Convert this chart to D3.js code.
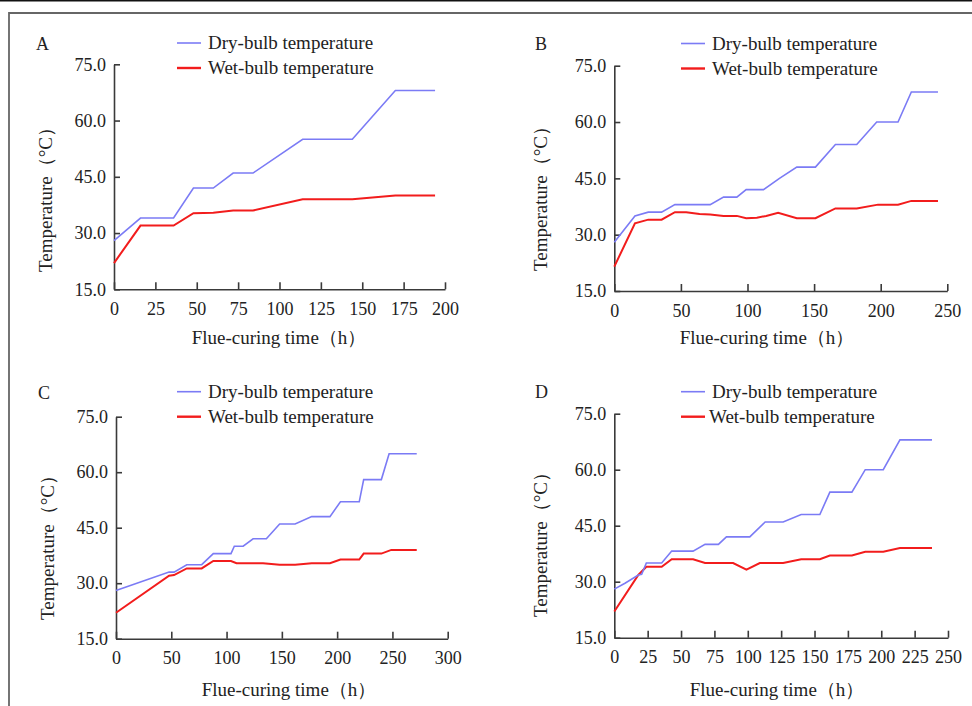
<!DOCTYPE html>
<html>
<head>
<meta charset="utf-8">
<script src="https://cdn.jsdelivr.net/npm/d3@7"></script>
<style>
  body{margin:0;background:#fff;}
  svg{display:block;font-family:"Liberation Serif","Times New Roman",serif;}
</style>
</head>
<body>
<svg id="chart" width="972" height="706"></svg>
<script>
'use strict';
// series data: [time (h), temperature (°C)]
var dryA = [[0,28],[16,34],[36,34],[48,42],[60,42],[72,46],[84,46],[114,55],[144,55],[170,68],[194,68]];
var wetA = [[0,22],[16,32],[36,32],[48,35.3],[60,35.4],[72,36],[84,36],[114,39],[144,39],[170,40],[194,40]];

var dryB = [[0,28],[15.5,35],[25.5,36],[35.5,36],[45.5,38],[72,38],[82,40],[92,40],[99,42],[112,42],[124,45],[137,48],[151,48],
            [166,54],[182,54],[197,60],[213,60],[223,68],[243,68]];
var wetB = [[0,21.5],[15.5,33],[25.5,34],[35.5,34],[45.5,36],[54,36],[64,35.5],[72,35.4],[82,35],[92,35],[99,34.4],[107,34.5],
            [114,35],[123,35.8],[137,34.4],[151,34.4],[166,37],[182,37],[198,38],[213,38],[223,39],[243,39]];

var dryC = [[0,28],[48,33],[52.5,33],[64,35],[77.5,35],[88,38],[104,38],[107,40],[115,40],[124,42],[136,42],[148,46],[162,46],
            [177,48],[193.5,48],[203,52],[220,52],[224,58],[240,58],[247,65],[272,65]];
var wetC = [[0,22],[48,32],[52.5,32.2],[64,34],[77.5,34],[88,36],[104,36],[109,35.4],[133,35.4],[148,35],[162,35],[177,35.4],
            [193.5,35.4],[203,36.4],[220,36.4],[224,38],[240,38],[249,39],[272,39]];

var dryD = [[0,28],[8,29.6],[18,31.8],[20.5,32],[24,35],[35.5,35],[43,38.2],[59,38.2],[68,40],[78,40],[84,42],[101.5,42],
            [113,46],[126.5,46],[140,48],[154,48],[161.5,54],[178,54],[188,60],[201.5,60],[214,68],[238,68]];
var wetD = [[0,22],[18,31.8],[24,34],[35.5,34],[43,36],[59,36],[68,35],[89,35],[99,33.2],[109,35],[126.5,35],[140,36],[154,36],
            [161.5,37],[178,37],[188,38],[201.5,38],[214,39],[238,39]];

var yTicks = [15,30,45,60,75];
var xTicksA = [0,25,50,75,100,125,150,175,200],
    xTicksB = [0,50,100,150,200,250],
    xTicksC = [0,50,100,150,200,250,300],
    xTicksD = [0,25,50,75,100,125,150,175,200,225,250];

var seriesNames = ['Dry-bulb temperature','Wet-bulb temperature'];
var xTitle = 'Flue-curing time（h）',
    yTitle = 'Temperature（°C）';

var serif = '"Liberation Serif","Times New Roman",serif';
var colDry = '#7b7bf5', colWet = '#f21c1c', colAxis = '#3a3a3a';

// panel layout (pixels)
var panels = [
  {tag:'A', dry:dryA, wet:wetA, ticks:xTicksA, l:114, r:445, t:64.3, b:289.3, tagX:36, tagY:50,
   legX:177, legTx:208, legTx2:208, legY:43, yLabX:46, yLabY:195, xLabX:279, xLabY:344},
  {tag:'B', dry:dryB, wet:wetB, ticks:xTicksB, l:614.3, r:947.3, t:65.7, b:291, tagX:535, tagY:50,
   legX:681, legTx:712, legTx2:712, legY:43.5, yLabX:541, yLabY:194, xLabX:767, xLabY:344},
  {tag:'C', dry:dryC, wet:wetC, ticks:xTicksC, l:116, r:447.7, t:416.7, b:638.7, tagX:38, tagY:399,
   legX:177, legTx:208, legTx2:208, legY:391.7, yLabX:48, yLabY:543, xLabX:289, xLabY:696},
  {tag:'D', dry:dryD, wet:wetD, ticks:xTicksD, l:614.3, r:948, t:413.7, b:637.7, tagX:535, tagY:398,
   legX:681, legTx:712, legTx2:709, legY:391.7, yLabX:541, yLabY:540, xLabX:777, xLabY:696}
];

var svg = d3.select('#chart');

// frame
svg.append('rect').attr('x',0).attr('y',0).attr('width',972).attr('height',1.5).attr('fill','#111');
svg.append('path').attr('d','M9,706V13H972').attr('fill','none').attr('stroke','#666').attr('stroke-width',1.8);

panels.forEach(function(p){
  var g = svg.append('g');
  var x = d3.scaleLinear().domain([0,d3.max(p.ticks)]).range([p.l,p.r]);
  var y = d3.scaleLinear().domain([15,75]).range([p.b,p.t]);

  var xAxis = d3.axisBottom(x).tickValues(p.ticks).tickSizeInner(-7).tickSizeOuter(0).tickPadding(13)
                .tickFormat(d3.format('d'));
  var yAxis = d3.axisLeft(y).tickValues(yTicks).tickSizeInner(-6).tickSizeOuter(0).tickPadding(8)
                .tickFormat(d3.format('.1f'));

  g.append('g').attr('transform','translate(0,'+p.b+')').call(xAxis)
   .call(s=>s.selectAll('text').style('font-family',serif).style('font-size','18px').attr('fill','#222'));
  g.append('g').attr('transform','translate('+p.l+',0)').call(yAxis)
   .call(s=>s.selectAll('text').style('font-family',serif).style('font-size','18px').attr('fill','#222'));
  g.selectAll('.domain,.tick line').attr('stroke',colAxis).attr('stroke-width',1.6);

  var line = d3.line().x(d=>x(d[0])).y(d=>y(d[1]));
  g.append('path').datum(p.wet).attr('d',line).attr('fill','none').attr('stroke',colWet).attr('stroke-width',2);
  g.append('path').datum(p.dry).attr('d',line).attr('fill','none').attr('stroke',colDry).attr('stroke-width',1.6);

  // panel tag
  g.append('text').text(p.tag).attr('x',p.tagX).attr('y',p.tagY).style('font-size','18px').attr('fill','#222');

  // legend
  [[colDry,1.6,p.legTx],[colWet,2.4,p.legTx2]].forEach(function(c,i){
    var ly = p.legY + i*25;
    g.append('line').attr('x1',p.legX).attr('x2',p.legX+24).attr('y1',ly).attr('y2',ly)
     .attr('stroke',c[0]).attr('stroke-width',c[1]);
    g.append('text').text(seriesNames[i]).attr('x',c[2]).attr('y',ly+6)
     .style('font-size','19px').attr('fill','#222');
  });

  // axis titles
  g.append('text').text(xTitle).attr('x',p.xLabX).attr('y',p.xLabY)
   .attr('text-anchor','middle').style('font-size','19px').attr('fill','#222');
  g.append('text').text(yTitle)
   .attr('transform','translate('+(p.yLabX+6)+','+p.yLabY+') rotate(-90)')
   .attr('text-anchor','middle').style('font-size','19px').attr('fill','#222');
});
</script>
</body>
</html>
